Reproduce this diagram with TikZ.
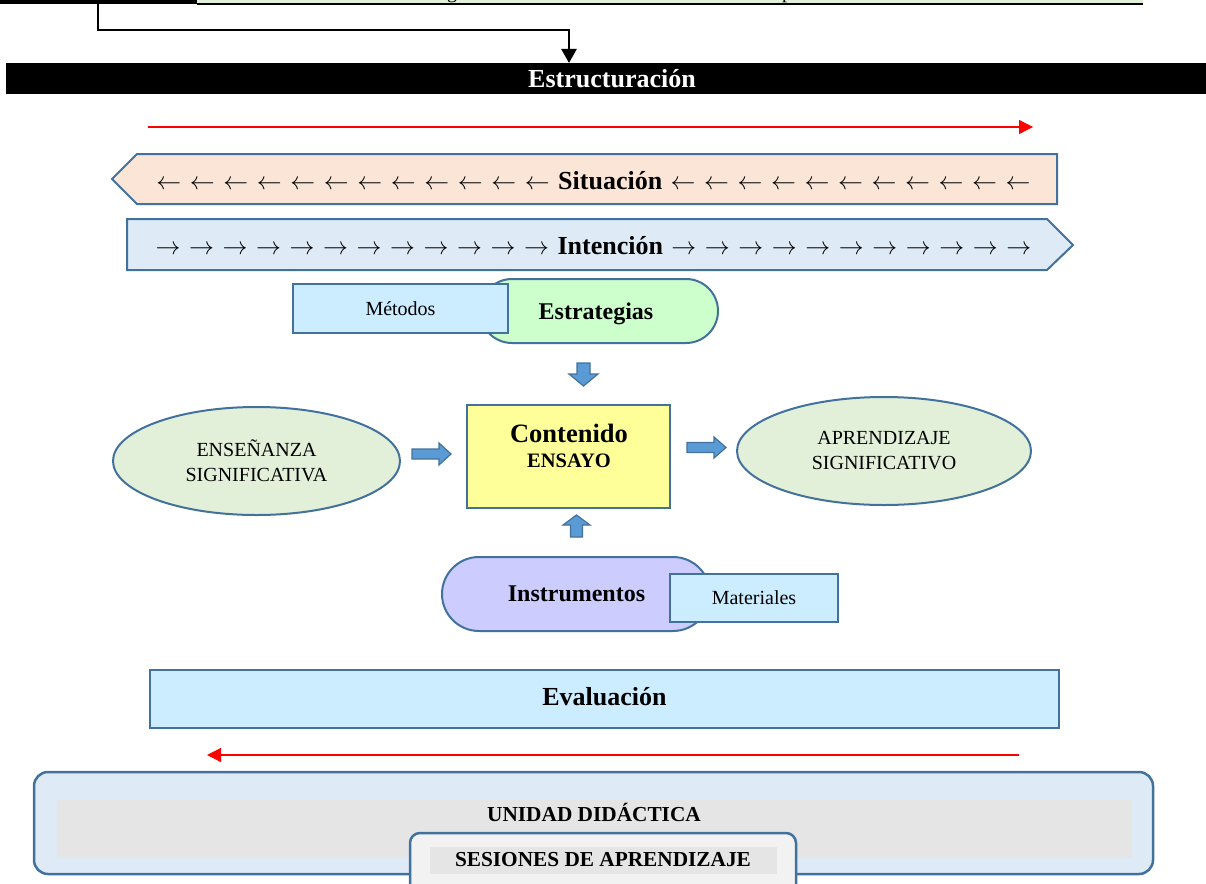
\documentclass[tikz,border=0pt]{standalone}
\usepackage{fontspec}
\setmainfont{Liberation Serif}
\usetikzlibrary{shapes.misc,shapes.geometric,arrows.meta}

\definecolor{edge}{RGB}{65,113,156}
\definecolor{peach}{HTML}{FBE5D6}
\definecolor{paleblue}{HTML}{DEEBF7}
\definecolor{mint}{HTML}{CCFFCC}
\definecolor{sky}{HTML}{CCECFF}
\definecolor{lemon}{HTML}{FFFF99}
\definecolor{sage}{HTML}{E2F0D9}
\definecolor{lilac}{HTML}{CCCCFF}
\definecolor{arrowfill}{HTML}{5B9BD5}
\definecolor{band}{HTML}{E5E5E5}
\definecolor{paper}{HTML}{F2F2F2}
\definecolor{topgreen}{HTML}{E2EFDA}

\newcommand\fsz[1]{\fontsize{#1}{#1}\selectfont}
\newcommand\lar{\makebox[33.5pt]{$\leftarrow$}}
\newcommand\rar{\makebox[33.5pt]{$\rightarrow$}}
\newcommand\larrow[1]{\foreach\k in {1,...,#1}{\lar}}
\newcommand\rarrow[1]{\foreach\k in {1,...,#1}{\rar}}

% block arrow: name, centre x, centre y, rotation, length, head width, shaft width, head length
\newcommand\blockarr[8]{%
  \begin{scope}[shift={(#2,#3)}, rotate=#4]
    \draw[blockarrow] ({-#5/2},{-#7/2}) -- ({#5/2-#8},{-#7/2}) -- ({#5/2-#8},{-#6/2})
      -- ({#5/2},0) -- ({#5/2-#8},{#6/2}) -- ({#5/2-#8},{#7/2}) -- ({-#5/2},{#7/2}) -- cycle;
    \coordinate (#1) at (0,0);
  \end{scope}}

\tikzset{
  shape edge/.style={draw=edge, line width=2pt},
  boxnode/.style={shape edge, rectangle, inner sep=0pt},
  pillnode/.style={shape edge, rounded rectangle, inner sep=0pt},
  ovalnode/.style={shape edge, ellipse, inner sep=0pt, fill=sage, align=center,
    font=\fontsize{20}{25}\selectfont},
  blockarrow/.style={draw=edge, fill=arrowfill, line width=1.2pt, line join=miter},
  redline/.style={draw=red, line width=1.2pt, -{Triangle[length=14pt,width=14pt]}},
  label/.style={inner sep=0pt, anchor=center},
}

\begin{document}
\begin{tikzpicture}[x=1pt, y=-1pt]
\useasboundingbox (0,0) rectangle (1206,883);

% strip along the top edge
\fill[black] (0,-2) rectangle (197,4);
\fill[topgreen] (197,-2) rectangle (1143,3);
\draw[black, line width=2pt] (197,4) -- (1143,4);
\node[label, anchor=base, font=\fsz{20}] (gtail) at (452,-1) {g};
\node[label, anchor=base, font=\fsz{20}] (ptail) at (787,-1) {p};

% Estructuración bar
\node[rectangle, fill=black, inner sep=0pt, minimum width=1200pt, minimum height=31pt] (estr) at (606,78.5) {};
\node[label, text=white, font=\bfseries\fsz{26}] (estrtxt) at (612,79) {Estructuración};

\coordinate (src) at (98,4);
\coordinate (bend) at (98,30);
\coordinate (dst) at (569,63);
\draw[line width=2.5pt, -{Triangle[length=14pt,width=15pt]}] (src) -- (bend) -| (dst);

% red arrows
\coordinate (r1a) at (148,127);
\coordinate (r1b) at (1033,127);
\draw[redline] (r1a) -- (r1b);

% Situación (points left)
\draw[shape edge, fill=peach] (112,179) -- (137,154) -- (1057,154) -- (1057,204) -- (137,204) -- cycle;
\node[label, font=\fsz{25}] (sit) at (593.5,181)
  {\larrow{12}\,\textbf{\fsz{26}Situación}\,\larrow{11}};

% Intención (points right)
\draw[shape edge, fill=paleblue] (127,219) -- (1047,219) -- (1073,245) -- (1047,270) -- (127,270) -- cycle;
\node[label, font=\fsz{25}] (inte) at (593.5,246)
  {\rarrow{12}\,\textbf{\fsz{26}Intención}\,\rarrow{11}};

% Estrategias / Métodos
\node[pillnode, fill=mint, minimum width=238pt, minimum height=64pt] (estrat) at (599,311) {};
\node[label, font=\bfseries\fsz{24}] (estrattxt) at (596,314) {Estrategias};
\node[boxnode, fill=sky, minimum width=215pt, minimum height=49pt, font=\fsz{20}] (metodos) at (400.5,308.5) {Métodos};

% central box
\node[boxnode, fill=lemon, minimum width=203pt, minimum height=103pt] (cont) at (568.5,456.5) {};
\node[label, font=\bfseries\fsz{26.5}] (conttxt) at (569,433) {Contenido};
\node[label, font=\bfseries\fsz{20.5}] (ensayo) at (569,461) {ENSAYO};

% ellipses
\node[ovalnode, minimum width=287pt, minimum height=108pt] (ense) at (256.5,461) {ENSEÑANZA\\SIGNIFICATIVA};
\node[ovalnode, minimum width=294pt, minimum height=108pt] (apre) at (884,451) {APRENDIZAJE\\SIGNIFICATIVO};

% block arrows towards and away from the central box
\blockarr{adown}{583.5}{374.5}{-90}{23}{29}{13}{12}
\blockarr{aleft}{431.5}{454}{0}{39}{22}{10}{12}
\blockarr{aright}{706.5}{447.5}{0}{39}{21}{10}{12}
\blockarr{aup}{576.5}{526}{90}{22}{27}{12}{10}

% Instrumentos / Materiales
\node[pillnode, fill=lilac, minimum width=268pt, minimum height=74pt] (instr) at (576,594) {};
\node[label, font=\bfseries\fsz{24}] (instrtxt) at (576.5,594) {Instrumentos};
\node[boxnode, fill=sky, minimum width=168pt, minimum height=48pt, font=\fsz{20}] (mater) at (754,598) {Materiales};

% Evaluación
\node[boxnode, fill=sky, minimum width=909pt, minimum height=58pt] (eval) at (604.5,699) {};
\node[label, font=\bfseries\fsz{26}] (evaltxt) at (604.5,697) {Evaluación};

\coordinate (r2a) at (1019,755);
\coordinate (r2b) at (207,755);
\draw[redline] (r2a) -- (r2b);

% Unidad didáctica and sesiones
\draw[draw=edge, line width=2.5pt, fill=paleblue, rounded corners=14pt] (34,772) rectangle (1153,874);
\fill[band] (57,800) rectangle (1132,858);
\node[label, font=\bfseries\fsz{21.3}] (unidad) at (594,812) {UNIDAD DIDÁCTICA};
\draw[draw=edge, line width=2.5pt, fill=paper, rounded corners=10pt] (410,833) rectangle (796,910);
\fill[band] (430,847) rectangle (777,874);
\node[label, font=\bfseries\fsz{21.3}] (sesiones) at (603,860) {SESIONES DE APRENDIZAJE};
\end{tikzpicture}
\end{document}
